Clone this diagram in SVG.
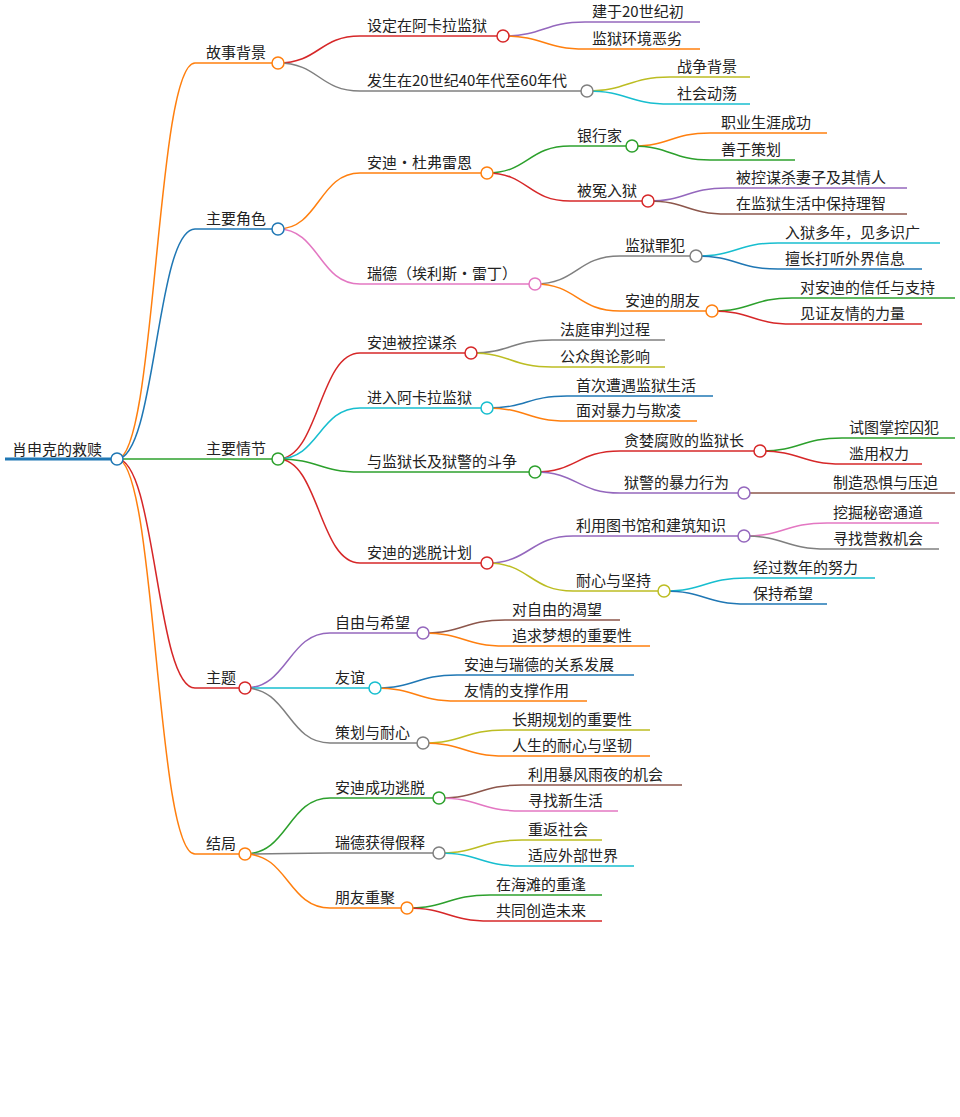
<svg xmlns="http://www.w3.org/2000/svg" width="960" height="1117" viewBox="0 0 960 1117">
<style>
text{font-family:"Noto Sans CJK SC","Noto Sans",sans-serif;font-size:15px;fill:#222}
path{fill:none;stroke-width:1.5}
circle{fill:#fff;stroke-width:1.5}
.c0{stroke:#1f77b4}.c1{stroke:#ff7f0e}.c2{stroke:#2ca02c}.c3{stroke:#d62728}.c4{stroke:#9467bd}
.c5{stroke:#8c564b}.c6{stroke:#e377c2}.c7{stroke:#7f7f7f}.c8{stroke:#bcbd22}.c9{stroke:#17becf}
</style>
<rect width="960" height="1117" fill="#fff"/>
<g id="connectors">
<path class="c1" d="M117 459C156 459 156 63 195 63"/>
<path class="c0" d="M117 459C156 459 156 229 195 229"/>
<path class="c2" d="M117 459C156 459 156 459 195 459"/>
<path class="c3" d="M117 459C156 459 156 688 195 688"/>
<path class="c1" d="M117 459C156 459 156 854 195 854"/>
<path class="c3" d="M278 63C319 63 319 36 360 36"/>
<path class="c7" d="M278 63C319 63 319 91 360 91"/>
<path class="c4" d="M503 36C544 36 544 22 585 22"/>
<path class="c1" d="M503 36C544 36 544 49 585 49"/>
<path class="c8" d="M587 91C628 91 628 77 670 77"/>
<path class="c9" d="M587 91C628 91 628 104 670 104"/>
<path class="c1" d="M278 229C319 229 319 173 360 173"/>
<path class="c6" d="M278 229C319 229 319 284 360 284"/>
<path class="c2" d="M487 173C528 173 528 146 570 146"/>
<path class="c3" d="M487 173C528 173 528 201 570 201"/>
<path class="c1" d="M632 146C671 146 671 133 710 133"/>
<path class="c2" d="M632 146C671 146 671 160 710 160"/>
<path class="c4" d="M648 201C687 201 687 188 727 188"/>
<path class="c5" d="M648 201C687 201 687 214 727 214"/>
<path class="c7" d="M535 284C577 284 577 256 620 256"/>
<path class="c1" d="M535 284C577 284 577 311 620 311"/>
<path class="c9" d="M696 256C737 256 737 243 778 243"/>
<path class="c0" d="M696 256C737 256 737 269 778 269"/>
<path class="c2" d="M712 311C752 311 752 298 792 298"/>
<path class="c3" d="M712 311C752 311 752 324 792 324"/>
<path class="c3" d="M278 459C319 459 319 353 360 353"/>
<path class="c9" d="M278 459C319 459 319 408 360 408"/>
<path class="c2" d="M278 459C319 459 319 472 360 472"/>
<path class="c3" d="M278 459C319 459 319 563 360 563"/>
<path class="c7" d="M471 353C511 353 511 340 552 340"/>
<path class="c8" d="M471 353C511 353 511 367 552 367"/>
<path class="c0" d="M487 408C527 408 527 396 567 396"/>
<path class="c1" d="M487 408C527 408 527 421 567 421"/>
<path class="c3" d="M535 472C577 472 577 451 620 451"/>
<path class="c4" d="M535 472C577 472 577 493 620 493"/>
<path class="c2" d="M760 451C801 451 801 438 842 438"/>
<path class="c3" d="M760 451C801 451 801 464 842 464"/>
<path class="c5" d="M744 493H828"/>
<path class="c4" d="M487 563C530 563 530 536 573 536"/>
<path class="c8" d="M487 563C530 563 530 591 573 591"/>
<path class="c6" d="M744 536C785 536 785 523 827 523"/>
<path class="c7" d="M744 536C785 536 785 549 827 549"/>
<path class="c9" d="M664 591C705 591 705 578 747 578"/>
<path class="c0" d="M664 591C705 591 705 604 747 604"/>
<path class="c4" d="M245 688C288 688 288 633 330 633"/>
<path class="c9" d="M245 688C288 688 288 688 330 688"/>
<path class="c7" d="M245 688C288 688 288 743 330 743"/>
<path class="c5" d="M423 633C464 633 464 620 505 620"/>
<path class="c1" d="M423 633C464 633 464 646 505 646"/>
<path class="c0" d="M375 688C416 688 416 675 457 675"/>
<path class="c1" d="M375 688C416 688 416 701 457 701"/>
<path class="c8" d="M423 743C464 743 464 730 505 730"/>
<path class="c1" d="M423 743C464 743 464 756 505 756"/>
<path class="c2" d="M245 854C288 854 288 798 330 798"/>
<path class="c7" d="M245 854C288 854 288 853 330 853"/>
<path class="c1" d="M245 854C288 854 288 908 330 908"/>
<path class="c5" d="M439 798C480 798 480 785 522 785"/>
<path class="c6" d="M439 798C480 798 480 811 522 811"/>
<path class="c8" d="M439 853C480 853 480 840 522 840"/>
<path class="c9" d="M439 853C480 853 480 866 522 866"/>
<path class="c2" d="M407 908C448 908 448 895 490 895"/>
<path class="c3" d="M407 908C448 908 448 921 490 921"/>
</g>
<g id="root"><path class="c0" style="stroke-width:3" d="M5 459H117"/><text x="12" y="455">肖申克的救赎</text><circle class="c0" cx="117" cy="459" r="6"/></g>
<g id="n1"><path class="c1" d="M195 63H278"/><text x="206" y="58">故事背景</text><circle class="c1" cx="278" cy="63" r="6"/></g>
<g id="n2"><path class="c0" d="M195 229H278"/><text x="206" y="224">主要角色</text><circle class="c0" cx="278" cy="229" r="6"/></g>
<g id="n3"><path class="c2" d="M195 459H278"/><text x="206" y="454">主要情节</text><circle class="c2" cx="278" cy="459" r="6"/></g>
<g id="n4"><path class="c3" d="M195 688H245"/><text x="206" y="683">主题</text><circle class="c3" cx="245" cy="688" r="6"/></g>
<g id="n5"><path class="c1" d="M195 854H245"/><text x="206" y="849">结局</text><circle class="c1" cx="245" cy="854" r="6"/></g>
<g id="n1a"><path class="c3" d="M360 36H503"/><text x="367" y="31">设定在阿卡拉监狱</text><circle class="c3" cx="503" cy="36" r="6"/></g>
<g id="n1b"><path class="c7" d="M360 91H587"/><text x="367" y="86">发生在20世纪40年代至60年代</text><circle class="c7" cx="587" cy="91" r="6"/></g>
<g id="l1"><path class="c4" d="M585 22H700"/><text x="592" y="17">建于20世纪初</text></g>
<g id="l2"><path class="c1" d="M585 49H700"/><text x="592" y="44">监狱环境恶劣</text></g>
<g id="l3"><path class="c8" d="M670 77H750"/><text x="677" y="72">战争背景</text></g>
<g id="l4"><path class="c9" d="M670 104H750"/><text x="677" y="99">社会动荡</text></g>
<g id="n2a"><path class="c1" d="M360 173H487"/><text x="367" y="168">安迪・杜弗雷恩</text><circle class="c1" cx="487" cy="173" r="6"/></g>
<g id="n2b"><path class="c6" d="M360 284H535"/><text x="367" y="279">瑞德（埃利斯・雷丁）</text><circle class="c6" cx="535" cy="284" r="6"/></g>
<g id="n2a1"><path class="c2" d="M570 146H632"/><text x="577" y="141">银行家</text><circle class="c2" cx="632" cy="146" r="6"/></g>
<g id="n2a2"><path class="c3" d="M570 201H648"/><text x="577" y="196">被冤入狱</text><circle class="c3" cx="648" cy="201" r="6"/></g>
<g id="l5"><path class="c1" d="M710 133H827"/><text x="721" y="128">职业生涯成功</text></g>
<g id="l6"><path class="c2" d="M710 160H795"/><text x="721" y="155">善于策划</text></g>
<g id="l7"><path class="c4" d="M727 188H907"/><text x="736" y="183">被控谋杀妻子及其情人</text></g>
<g id="l8"><path class="c5" d="M727 214H907"/><text x="736" y="209">在监狱生活中保持理智</text></g>
<g id="n2b1"><path class="c7" d="M620 256H696"/><text x="625" y="251">监狱罪犯</text><circle class="c7" cx="696" cy="256" r="6"/></g>
<g id="n2b2"><path class="c1" d="M620 311H712"/><text x="625" y="306">安迪的朋友</text><circle class="c1" cx="712" cy="311" r="6"/></g>
<g id="l9"><path class="c9" d="M778 243H940"/><text x="785" y="238">入狱多年，见多识广</text></g>
<g id="l10"><path class="c0" d="M778 269H922"/><text x="785" y="264">擅长打听外界信息</text></g>
<g id="l11"><path class="c2" d="M792 298H955"/><text x="800" y="293">对安迪的信任与支持</text></g>
<g id="l12"><path class="c3" d="M792 324H922"/><text x="800" y="319">见证友情的力量</text></g>
<g id="n3a"><path class="c3" d="M360 353H471"/><text x="367" y="348">安迪被控谋杀</text><circle class="c3" cx="471" cy="353" r="6"/></g>
<g id="n3b"><path class="c9" d="M360 408H487"/><text x="367" y="403">进入阿卡拉监狱</text><circle class="c9" cx="487" cy="408" r="6"/></g>
<g id="n3c"><path class="c2" d="M360 472H535"/><text x="367" y="467">与监狱长及狱警的斗争</text><circle class="c2" cx="535" cy="472" r="6"/></g>
<g id="n3d"><path class="c3" d="M360 563H487"/><text x="367" y="558">安迪的逃脱计划</text><circle class="c3" cx="487" cy="563" r="6"/></g>
<g id="l13"><path class="c7" d="M552 340H665"/><text x="560" y="335">法庭审判过程</text></g>
<g id="l14"><path class="c8" d="M552 367H665"/><text x="560" y="362">公众舆论影响</text></g>
<g id="l15"><path class="c0" d="M567 396H713"/><text x="576" y="391">首次遭遇监狱生活</text></g>
<g id="l16"><path class="c1" d="M567 421H697"/><text x="576" y="416">面对暴力与欺凌</text></g>
<g id="n3c1"><path class="c3" d="M620 451H760"/><text x="624" y="446">贪婪腐败的监狱长</text><circle class="c3" cx="760" cy="451" r="6"/></g>
<g id="n3c2"><path class="c4" d="M620 493H744"/><text x="624" y="488">狱警的暴力行为</text><circle class="c4" cx="744" cy="493" r="6"/></g>
<g id="l17"><path class="c2" d="M842 438H955"/><text x="849" y="433">试图掌控囚犯</text></g>
<g id="l18"><path class="c3" d="M842 464H922"/><text x="849" y="459">滥用权力</text></g>
<g id="l19"><path class="c5" d="M828 493H955"/><text x="833" y="488">制造恐惧与压迫</text></g>
<g id="n3d1"><path class="c4" d="M573 536H744"/><text x="576" y="531">利用图书馆和建筑知识</text><circle class="c4" cx="744" cy="536" r="6"/></g>
<g id="n3d2"><path class="c8" d="M573 591H664"/><text x="576" y="586">耐心与坚持</text><circle class="c8" cx="664" cy="591" r="6"/></g>
<g id="l20"><path class="c6" d="M827 523H939"/><text x="833" y="518">挖掘秘密通道</text></g>
<g id="l21"><path class="c7" d="M827 549H939"/><text x="833" y="544">寻找营救机会</text></g>
<g id="l22"><path class="c9" d="M747 578H875"/><text x="753" y="573">经过数年的努力</text></g>
<g id="l23"><path class="c0" d="M747 604H827"/><text x="753" y="599">保持希望</text></g>
<g id="n4a"><path class="c4" d="M330 633H423"/><text x="335" y="628">自由与希望</text><circle class="c4" cx="423" cy="633" r="6"/></g>
<g id="n4b"><path class="c9" d="M330 688H375"/><text x="335" y="683">友谊</text><circle class="c9" cx="375" cy="688" r="6"/></g>
<g id="n4c"><path class="c7" d="M330 743H423"/><text x="335" y="738">策划与耐心</text><circle class="c7" cx="423" cy="743" r="6"/></g>
<g id="l24"><path class="c5" d="M505 620H620"/><text x="512" y="615">对自由的渴望</text></g>
<g id="l25"><path class="c1" d="M505 646H650"/><text x="512" y="641">追求梦想的重要性</text></g>
<g id="l26"><path class="c0" d="M457 675H634"/><text x="464" y="670">安迪与瑞德的关系发展</text></g>
<g id="l27"><path class="c1" d="M457 701H587"/><text x="464" y="696">友情的支撑作用</text></g>
<g id="l28"><path class="c8" d="M505 730H650"/><text x="512" y="725">长期规划的重要性</text></g>
<g id="l29"><path class="c1" d="M505 756H650"/><text x="512" y="751">人生的耐心与坚韧</text></g>
<g id="n5a"><path class="c2" d="M330 798H439"/><text x="335" y="793">安迪成功逃脱</text><circle class="c2" cx="439" cy="798" r="6"/></g>
<g id="n5b"><path class="c7" d="M330 853H439"/><text x="335" y="848">瑞德获得假释</text><circle class="c7" cx="439" cy="853" r="6"/></g>
<g id="n5c"><path class="c1" d="M330 908H407"/><text x="335" y="903">朋友重聚</text><circle class="c1" cx="407" cy="908" r="6"/></g>
<g id="l30"><path class="c5" d="M522 785H682"/><text x="528" y="780">利用暴风雨夜的机会</text></g>
<g id="l31"><path class="c6" d="M522 811H618"/><text x="528" y="806">寻找新生活</text></g>
<g id="l32"><path class="c8" d="M522 840H602"/><text x="528" y="835">重返社会</text></g>
<g id="l33"><path class="c9" d="M522 866H634"/><text x="528" y="861">适应外部世界</text></g>
<g id="l34"><path class="c2" d="M490 895H602"/><text x="496" y="890">在海滩的重逢</text></g>
<g id="l35"><path class="c3" d="M490 921H602"/><text x="496" y="916">共同创造未来</text></g>
</svg>
